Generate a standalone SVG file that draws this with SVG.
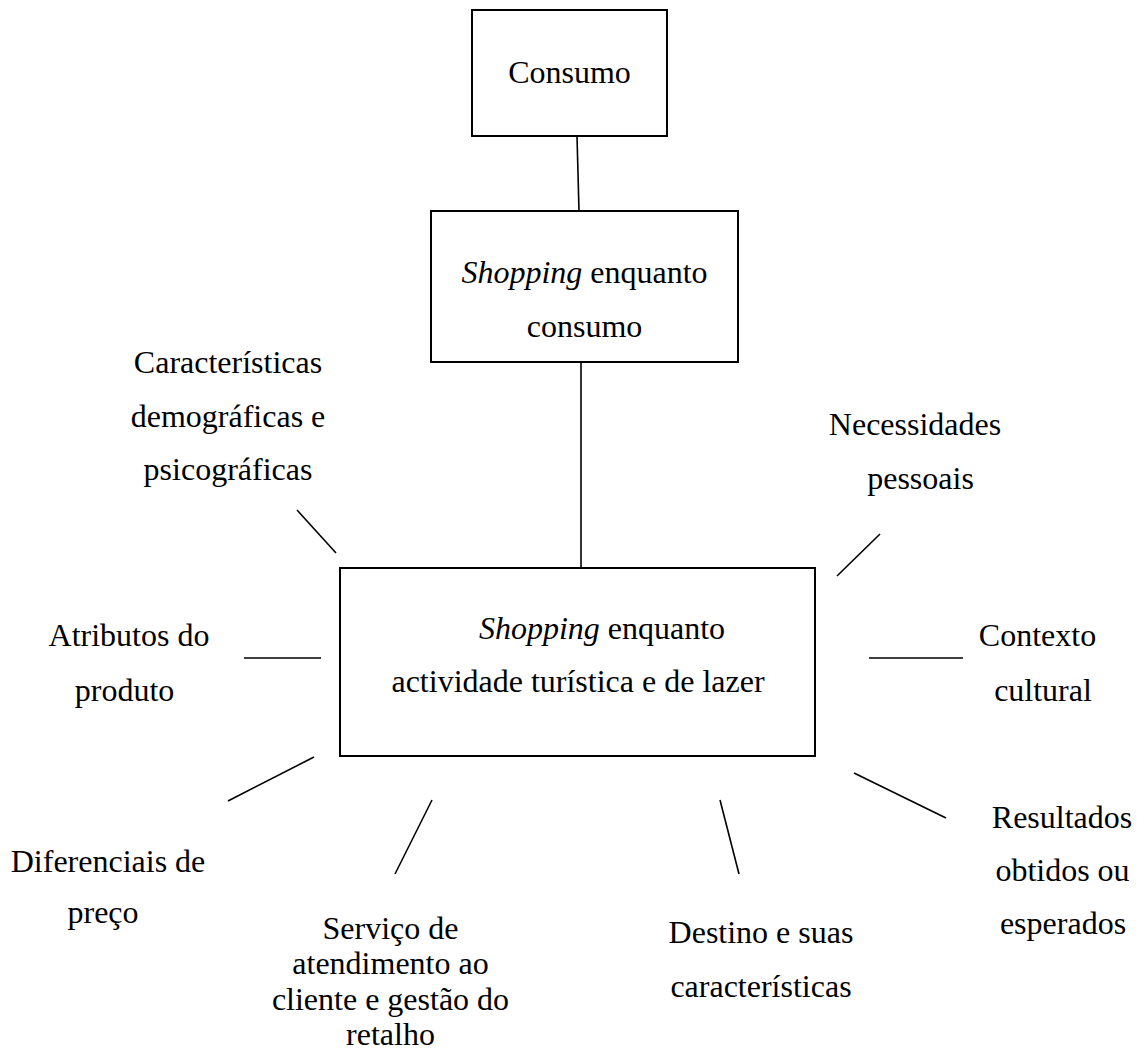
<svg xmlns="http://www.w3.org/2000/svg" width="1138" height="1053" viewBox="0 0 1138 1053">
<style>
  .box { fill: #ffffff; stroke: #000000; stroke-width: 2; }
  .ln { stroke: #000000; stroke-width: 1.6; fill: none; }
  text { font-family: "Liberation Serif", "Times New Roman", serif; font-size: 32px; fill: #000000; text-anchor: middle; }
  .it { font-style: italic; }
</style>
<rect width="1138" height="1053" fill="#ffffff"/>
<g id="connectors">
  <line class="ln" x1="577" y1="136" x2="579" y2="211"/>
  <line class="ln" x1="581" y1="362" x2="581" y2="568"/>
  <line class="ln" x1="297" y1="510" x2="336" y2="553"/>
  <line class="ln" x1="880" y1="534" x2="837" y2="576"/>
  <line class="ln" x1="244" y1="658" x2="321" y2="658"/>
  <line class="ln" x1="869" y1="658" x2="963" y2="658"/>
  <line class="ln" x1="314" y1="757" x2="228" y2="801"/>
  <line class="ln" x1="432" y1="800" x2="395" y2="874"/>
  <line class="ln" x1="720" y1="800" x2="739" y2="874"/>
  <line class="ln" x1="854" y1="773" x2="946" y2="818"/>
</g>
<g id="consumo">
  <rect class="box" x="472" y="10" width="195" height="126"/>
  <text x="569.5" y="83">Consumo</text>
</g>
<g id="shopping-consumo">
  <rect class="box" x="431" y="211" width="307" height="151"/>
  <text x="584.5" y="283"><tspan class="it">Shopping</tspan> enquanto</text>
  <text x="584.5" y="337">consumo</text>
</g>
<g id="shopping-turismo">
  <rect class="box" x="340" y="568" width="475" height="188"/>
  <text x="602" y="639"><tspan class="it">Shopping</tspan> enquanto</text>
  <text x="578" y="692">actividade turística e de lazer</text>
</g>
<g id="caracteristicas">
  <text x="228" y="373">Características</text>
  <text x="228" y="427">demográficas e</text>
  <text x="228" y="480">psicográficas</text>
</g>
<g id="necessidades">
  <text x="915" y="435">Necessidades</text>
  <text x="920.5" y="489">pessoais</text>
</g>
<g id="atributos">
  <text x="129" y="646">Atributos do</text>
  <text x="124.5" y="701">produto</text>
</g>
<g id="contexto">
  <text x="1037.5" y="646">Contexto</text>
  <text x="1043" y="701">cultural</text>
</g>
<g id="diferenciais">
  <text x="108" y="872">Diferenciais de</text>
  <text x="103" y="923">preço</text>
</g>
<g id="servico">
  <text x="390.5" y="939">Serviço de</text>
  <text x="390.5" y="974">atendimento ao</text>
  <text x="390.5" y="1010">cliente e gestão do</text>
  <text x="390.5" y="1045">retalho</text>
</g>
<g id="destino">
  <text x="761" y="943">Destino e suas</text>
  <text x="761" y="997">características</text>
</g>
<g id="resultados">
  <text x="1062" y="828">Resultados</text>
  <text x="1062.5" y="881">obtidos ou</text>
  <text x="1063" y="934">esperados</text>
</g>
</svg>
